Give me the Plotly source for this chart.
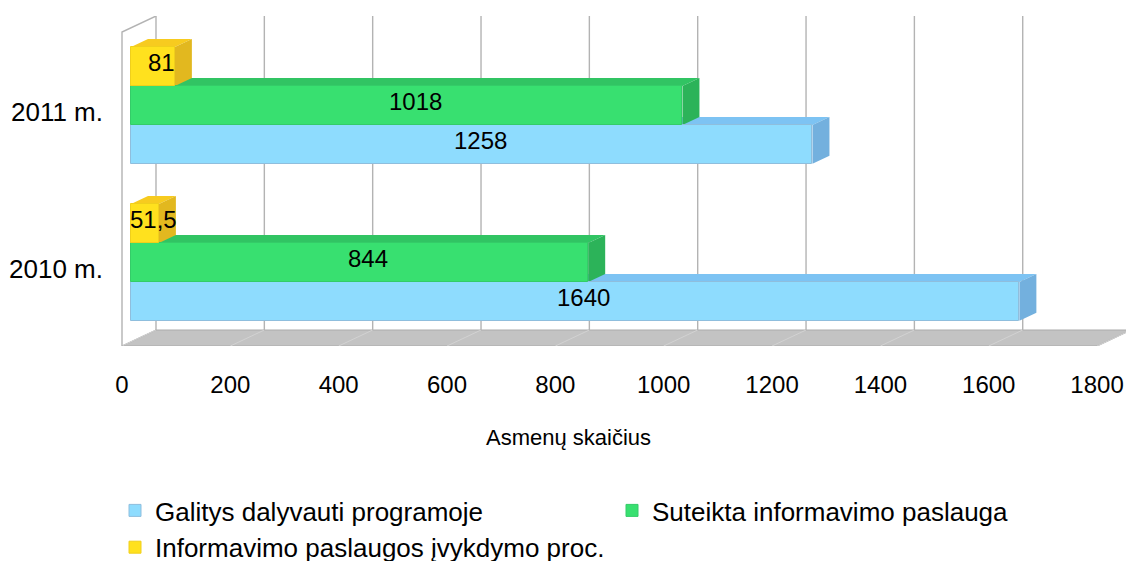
import plotly.graph_objects as go

# ---- data ----
years = ["2010 m.", "2011 m."]
series_names = ["Galitys dalyvauti programoje", "Suteikta informavimo paslauga",
                "Informavimo paslaugos įvykdymo proc."]
galitys = [1640, 1258]
suteikta = [844, 1018]
proc = [51.5, 81]
x_ticks = [0, 200, 400, 600, 800, 1000, 1200, 1400, 1600, 1800]
x_title = "Asmenų skaičius"

# ---- styling ----
front_cols = ["#8EDCFE", "#38E070", "#FFE11E"]
top_cols = ["#7DC3F3", "#31C463", "#F7CB1F"]
side_cols = ["#73B0DE", "#2CB359", "#E2B81F"]
edge_cols = ["#8FBEDD", "#34CC68", "#F0CF1C"]
bar_w = 0.248
offsets = [-0.33, -0.082, 0.166]

PX_X = 0.5417   # px per x unit
PX_Y = 157.0    # px per y unit
dx = 17 / PX_X  # bar depth offsets
dy = 8 / PX_Y
wx = 25 / PX_X  # back wall offset
fx = -9 / PX_X  # front floor edge offset
y_top = 1.6115
y_wall_bot = -0.3885
y_floor_front = -0.4904
y_leftwall_top = 1.5096
x_min = -20.3
x_max = x_min + 1006 / PX_X

FONT = "Liberation Sans, Arial, sans-serif"

fig = go.Figure()
ypos = list(range(len(years)))
all_series = [galitys, suteikta, proc]

for i, vals in enumerate(all_series):
    fig.add_trace(go.Bar(
        x=vals, y=ypos, orientation="h", name=series_names[i],
        width=bar_w, offset=offsets[i],
        marker=dict(color=front_cols[i], line=dict(color=edge_cols[i], width=1)),
        hoverinfo="x+name",
    ))

shapes = []
line_col = "#B3B3B3"
# floor
shapes.append(dict(type="path", xref="x", yref="y", layer="below",
                   path=f"M {fx},{y_floor_front} L {wx},{y_wall_bot} L {x_ticks[-1]+wx},{y_wall_bot} "
                        f"L {x_ticks[-1]+fx},{y_floor_front} Z",
                   fillcolor="#C3C3C3", line=dict(color="#ABABAB", width=1.2)))
for v in x_ticks:
    shapes.append(dict(type="line", xref="x", yref="y", layer="below",
                       x0=v + wx, x1=v + fx, y0=y_wall_bot, y1=y_floor_front,
                       line=dict(color="#D2D2D2", width=1)))
    shapes.append(dict(type="line", xref="x", yref="y", layer="below",
                       x0=v + wx, x1=v + wx, y0=y_wall_bot, y1=y_top,
                       line=dict(color=line_col, width=1.4)))
# left wall
shapes.append(dict(type="path", xref="x", yref="y", layer="below",
                   path=f"M {fx},{y_floor_front} L {fx},{y_leftwall_top} L {wx},{y_top}",
                   line=dict(color=line_col, width=1.4)))

# 3D faces of bars
for i, vals in enumerate(all_series):
    for j, v in enumerate(vals):
        y0 = ypos[j] + offsets[i]
        y1 = y0 + bar_w
        shapes.append(dict(type="path", xref="x", yref="y", layer="below",
                           path=f"M 0,{y1} L {v},{y1} L {v+dx},{y1+dy} L {dx},{y1+dy} Z",
                           fillcolor=top_cols[i], line=dict(width=0)))
        shapes.append(dict(type="path", xref="x", yref="y", layer="below",
                           path=f"M {v},{y0} L {v},{y1} L {v+dx},{y1+dy} L {v+dx},{y0+dy} Z",
                           fillcolor=side_cols[i], line=dict(width=0)))

annotations = []
for i, vals in enumerate(all_series):
    for j, v in enumerate(vals):
        yc = ypos[j] + offsets[i] + bar_w / 2
        txt = f"{v:g}".replace(".", ",")
        annotations.append(dict(x=v / 2 + dx / 2, y=yc + dy / 2, xref="x", yref="y",
                                text=txt, showarrow=False,
                                font=dict(size=24, color="black", family=FONT)))
annotations.append(dict(x=(568.5 - 120) / 1006, y=(346 - 437) / 330, xref="paper", yref="paper",
                        xanchor="center", yanchor="middle", text=x_title, showarrow=False,
                        font=dict(size=22, color="black", family=FONT)))

fig.update_layout(
    width=1126, height=561,
    margin=dict(l=120, r=0, t=16, b=215),
    paper_bgcolor="white", plot_bgcolor="rgba(0,0,0,0)",
    font=dict(family=FONT, size=24, color="black"),
    showlegend=True,
    legend=dict(orientation="h", xref="container", yref="container",
                x=115 / 1126, y=1 - 487 / 561, xanchor="left", yanchor="top",
                entrywidth=452, entrywidthmode="pixels",
                font=dict(size=26, family=FONT, color="black"),
                traceorder="normal", bgcolor="rgba(0,0,0,0)"),
    shapes=shapes, annotations=annotations,
    bargap=0,
)
fig.update_xaxes(range=[x_min, x_max], tickvals=x_ticks, ticktext=[str(t) for t in x_ticks],
                 showgrid=False, zeroline=False, showline=False, ticks="",
                 ticklabelshift=-9, ticklabelstandoff=22,
                 tickfont=dict(size=24, family=FONT))
fig.update_yaxes(range=[y_floor_front, y_top], tickvals=ypos, ticktext=years,
                 showgrid=False, zeroline=False, showline=False, ticks="",
                 ticklabelstandoff=16, tickfont=dict(size=26, family=FONT))

fig.write_html("out.html", config={"displayModeBar": False},
               post_script="document.body.style.margin='0';document.body.style.overflow='hidden';")
